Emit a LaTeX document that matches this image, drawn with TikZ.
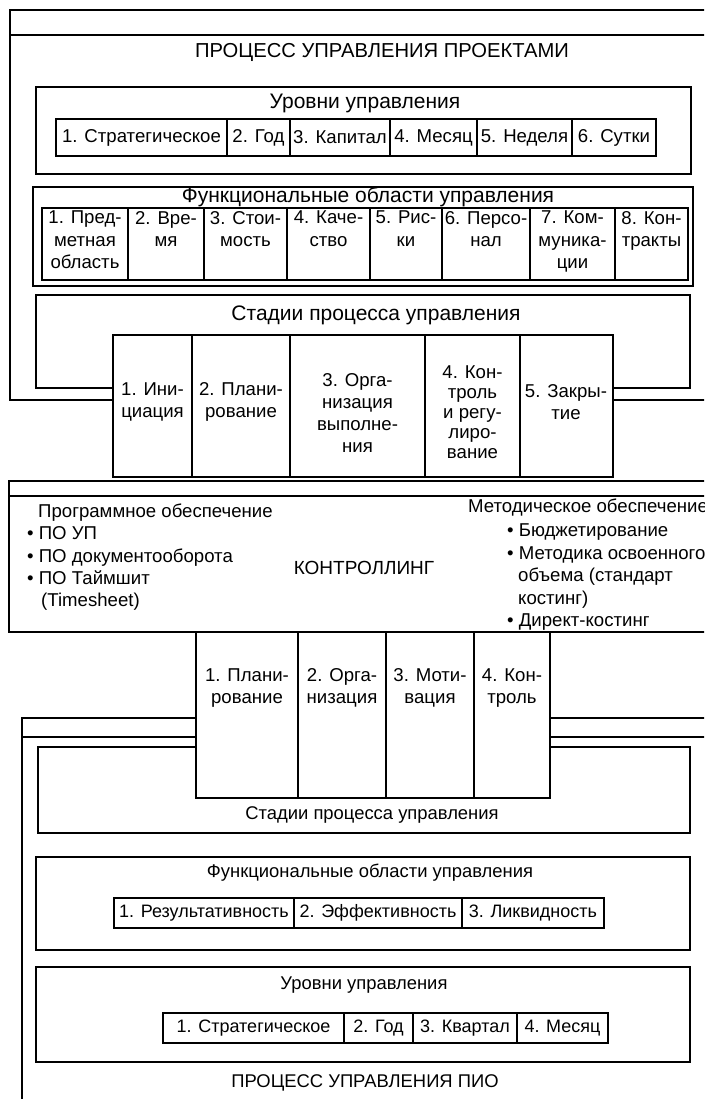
\documentclass[tikz,border=0pt]{standalone}
\usepackage{fontspec}
\setmainfont{Liberation Sans}
\newcommand\fhead{\fontsize{20.2}{24}\selectfont}
\newcommand\fsub{\fontsize{21}{24}\selectfont}
\newcommand\fcell{\fontsize{18.6}{22.5}\selectfont}
\newcommand\flow{\fontsize{18.4}{22}\selectfont}
% a boxed cell: name, left, top, right, bottom, text
\newcommand\mkcell[6]{%
  \node[cellbox, minimum width={(#4-#2)*1pt}, minimum height={(#5-#3)*1pt}] (#1) at (#2,#3) {#6};}
\begin{document}
\begin{tikzpicture}[x=1pt,y=-1pt,
  ln/.style={line width=1.8pt},
  cellbox/.style={draw, line width=1.8pt, inner sep=0pt, outer sep=0pt,
    anchor=north west, font=\fcell},
  lbl/.style={inner sep=0pt, align=center, font=\fcell},
  row/.style={inner sep=0pt, anchor=west, font=\fcell, text height=13.5pt, text depth=4pt},
  ]
\useasboundingbox (0,0) rectangle (704,1099);
\clip (0,0) rectangle (704,1099);

% ---------------- project management process ----------------
\draw[ln] (712,10) -- (10,10) -- (10,400) -- (113,400);
\draw[ln] (10,35) -- (712,35);
\draw[ln] (613,400) -- (712,400);
\node[lbl, font=\fhead] (ptitle) at (382,52) {ПРОЦЕСС УПРАВЛЕНИЯ ПРОЕКТАМИ};

% levels of management
\draw[ln] (36,87) rectangle (691,174);
\node[lbl, font=\fsub] (lvtitle) at (365,103) {Уровни управления};
\mkcell{ul1}{56}{119}{227}{156}{1. Стратегическое}
\mkcell{ul2}{227}{119}{290}{156}{2. Год}
\mkcell{ul3}{290}{119}{390}{156}{3. Капитал}
\mkcell{ul4}{390}{119}{477}{156}{4. Месяц}
\mkcell{ul5}{477}{119}{572}{156}{5. Неделя}
\mkcell{ul6}{572}{119}{656}{156}{6. Сутки}

% functional areas
\draw[ln] (33,187) rectangle (693,286);
\node[lbl, font=\fsub] (fatitle) at (368,197) {Функциональные области управления};
\begin{scope}[cellbox/.append style={line width=2.6pt}]
\mkcell{uf1}{42}{208}{128}{280}{}
\mkcell{uf2}{128}{208}{204}{280}{}
\mkcell{uf3}{204}{208}{287}{280}{}
\mkcell{uf4}{287}{208}{370}{280}{}
\mkcell{uf5}{370}{208}{442}{280}{}
\mkcell{uf6}{442}{208}{530}{280}{}
\mkcell{uf7}{530}{208}{615}{280}{}
\mkcell{uf8}{615}{208}{688}{280}{}
\end{scope}
\foreach \c/\t in {uf1/{1. Пред-\\метная\\область}, uf2/{2. Вре-\\мя},
  uf3/{3. Стои-\\мость}, uf4/{4. Каче-\\ство}, uf5/{5. Рис-\\ки},
  uf6/{6. Персо-\\нал}, uf7/{7. Ком-\\муника-\\ции}, uf8/{8. Кон-\\тракты}}
  \node[lbl, anchor=north] at ([yshift=-3pt]\c.north) {\t};

% stages of the management process
\draw[ln] (113,388) -- (36,388) -- (36,295) -- (690,295) -- (690,388) -- (613,388);
\node[lbl, font=\fsub] (sttitle) at (376,315) {Стадии процесса управления};
\mkcell{us1}{113}{335}{192}{477}{}
\mkcell{us2}{192}{335}{290}{477}{}
\mkcell{us3}{290}{335}{425}{477}{}
\mkcell{us4}{425}{335}{520}{477}{}
\mkcell{us5}{520}{335}{613}{477}{}
\node[lbl] at (152.5,402) {1. Ини-\\циация};
\node[lbl] at (241,402) {2. Плани-\\рование};
\node[lbl, font=\fontsize{18.6}{22}\selectfont] at (357.5,413) {3. Орга-\\низация\\выполне-\\ния};
\node[lbl, font=\fontsize{18.6}{20}\selectfont] at (472.5,412) {4. Кон-\\троль\\и регу-\\лиро-\\вание};
\node[lbl] at (566,402) {5. Закры-\\тие};

% ---------------- controlling ----------------
\draw[ln] (712,481) -- (9,481) -- (9,632) -- (712,632);
\draw[ln] (9,496) -- (712,496);
\node[row] (sw0) at (38,513) {Программное обеспечение};
\node[row] (sw1) at (27,535) {• ПО УП};
\node[row] (sw2) at (27,557.5) {• ПО документооборота};
\node[row] (sw3) at (27,580) {• ПО Таймшит};
\node[row] (sw4) at (41,602) {(Timesheet)};
\node[lbl, font=\fontsize{19}{22}\selectfont] (ctl) at (364,568) {КОНТРОЛЛИНГ};
\node[row] (mt0) at (468,508) {Методическое обеспечение};
\node[row] (mt1) at (507,532) {• Бюджетирование};
\node[row] (mt2) at (507,555) {• Методика освоенного};
\node[row] (mt3) at (518,577) {объема (стандарт};
\node[row] (mt4) at (518,600) {костинг)};
\node[row] (mt5) at (507,622) {• Директ-костинг};

% ---------------- investment programme management process ----------------
\draw[ln] (196,718) -- (22,718) -- (22,1105);
\draw[ln] (22,737) -- (196,737);
\draw[ln] (550,718) -- (712,718);
\draw[ln] (550,737) -- (712,737);
\draw[ln] (196,747) -- (38,747) -- (38,833) -- (690,833) -- (690,747) -- (550,747);

\mkcell{ls1}{196}{632}{298}{798}{}
\mkcell{ls2}{298}{632}{386}{798}{}
\mkcell{ls3}{386}{632}{474}{798}{}
\mkcell{ls4}{474}{632}{550}{798}{}
\node[lbl, font=\fontsize{18.6}{21.5}\selectfont] at (247,688) {1. Плани-\\рование};
\node[lbl, font=\fontsize{18.6}{21.5}\selectfont] at (342,688) {2. Орга-\\низация};
\node[lbl, font=\fontsize{18.6}{21.5}\selectfont] at (430,688) {3. Моти-\\вация};
\node[lbl, font=\fontsize{18.6}{21.5}\selectfont] at (512,688) {4. Кон-\\троль};
\node[lbl, font=\flow] (lsttitle) at (372,815) {Стадии процесса управления};

\draw[ln] (36,857) rectangle (690,950);
\node[lbl, font=\flow] (lfatitle) at (370,873) {Функциональные области управления};
\begin{scope}[cellbox/.append style={font=\fontsize{18}{21}\selectfont}]
\mkcell{lf1}{114}{898}{294}{928}{1. Результативность}
\mkcell{lf2}{294}{898}{462}{928}{2. Эффективность}
\mkcell{lf3}{462}{898}{604}{928}{3. Ликвидность}
\end{scope}

\draw[ln] (36,967) rectangle (690,1062);
\node[lbl, font=\flow] (llvtitle) at (364,985) {Уровни управления};
\begin{scope}[cellbox/.append style={font=\fontsize{18}{21}\selectfont}]
\mkcell{ll1}{163}{1013}{344}{1043}{1. Стратегическое}
\mkcell{ll2}{344}{1013}{413}{1043}{2. Год}
\mkcell{ll3}{413}{1013}{517}{1043}{3. Квартал}
\mkcell{ll4}{517}{1013}{608}{1043}{4. Месяц}
\end{scope}
\node[lbl, font=\flow] (ltitle) at (365,1083) {ПРОЦЕСС УПРАВЛЕНИЯ ПИО};
\end{tikzpicture}
\end{document}
